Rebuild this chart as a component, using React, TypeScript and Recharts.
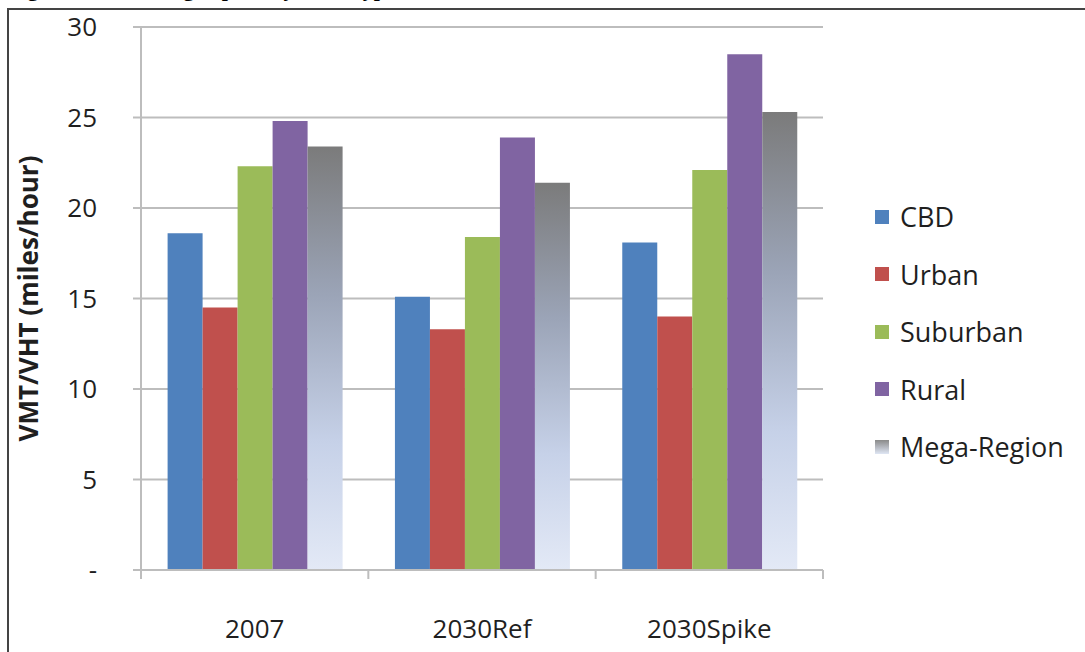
import React from 'react';
import { BarChart, Bar, XAxis, YAxis, CartesianGrid } from 'recharts';

const categories = ['2007', '2030Ref', '2030Spike'];
const cbd = [18.6, 15.1, 18.1];
const urban = [14.5, 13.3, 14.0];
const suburban = [22.3, 18.4, 22.1];
const rural = [24.8, 23.9, 28.5];
const megaRegion = [23.4, 21.4, 25.3];
const yTicks = [0, 5, 10, 15, 20, 25, 30];

const seriesNames = ['CBD', 'Urban', 'Suburban', 'Rural', 'Mega-Region'];
const seriesKeys = ['cbd', 'urban', 'suburban', 'rural', 'mega'];
const seriesColors = ['#4f81bd', '#c0504d', '#9bbb59', '#8064a2', 'url(#megaGrad)'];

const data = categories.map((c, i) => ({
  name: c,
  cbd: cbd[i],
  urban: urban[i],
  suburban: suburban[i],
  rural: rural[i],
  mega: megaRegion[i],
}));

const FONT = '"Open Sans", sans-serif';
const TEXT = '#1f1f1f';
const GRID = '#bdbdbd';

const XTick = (props: any) => {
  const { x, y, payload, index, width } = props;
  const half = payload && payload.offset ? payload.offset : (width || 682) / categories.length / 2;
  const last = index === categories.length - 1;
  return (
    <g>
      <line x1={x - half} x2={x - half} y1={y - 8} y2={y + 1} stroke={GRID} strokeWidth={2} />
      {last && <line x1={x + half} x2={x + half} y1={y - 8} y2={y + 1} stroke={GRID} strokeWidth={2} />}
      <text x={x} y={y + 60} textAnchor="middle" fontFamily={FONT} fontSize={26} fill={TEXT}>
        {payload.value}
      </text>
    </g>
  );
};

const LegendBox = () => (
  <div
    style={{
      position: 'absolute',
      left: 875,
      top: 188,
      width: 210,
      fontFamily: FONT,
      fontSize: 27,
      color: TEXT,
    }}
  >
    {seriesNames.map((n, i) => (
      <div key={n} style={{ display: 'flex', alignItems: 'center', height: 57.5 }}>
        <div
          style={{
            width: 14,
            height: 14,
            marginRight: 11,
            background: i === 4 ? 'linear-gradient(#8a8a8a, #dfe6f4)' : seriesColors[i],
          }}
        />
        <span>{n}</span>
      </div>
    ))}
  </div>
);

export default function App() {
  return (
    <div>
      <div
        style={{
          position: 'absolute',
          left: 8,
          top: -22,
          fontFamily: '"Liberation Serif", serif',
          fontWeight: 'bold',
          fontSize: 22,
          lineHeight: '22px',
          whiteSpace: 'nowrap',
          color: '#000',
        }}
      >
        Figure 4-12: Average Speed by Area Type
      </div>
      <div
        style={{
          position: 'absolute',
          left: 7,
          top: 8,
          width: 1100,
          height: 700,
          borderLeft: '2px solid #444',
          borderTop: '2px solid #444',
          boxSizing: 'border-box',
        }}
      />
      <div style={{ position: 'absolute', left: 0, top: 0 }}>
        <BarChart
          width={1085}
          height={652}
          data={data}
          margin={{ top: 27, right: 262, left: 0, bottom: 0 }}
          barCategoryGap="11.7%"
          barGap={0}
        >
          <defs>
            <linearGradient id="megaGrad" x1="0" y1="0" x2="0" y2="1">
              <stop offset="0%" stopColor="#7b7b7b" />
              <stop offset="35%" stopColor="#9ba4b7" />
              <stop offset="70%" stopColor="#c6d1e8" />
              <stop offset="100%" stopColor="#e3e9f6" />
            </linearGradient>
          </defs>
          <CartesianGrid vertical={false} stroke={GRID} strokeWidth={2} />
          <XAxis
            dataKey="name"
            height={82}
            axisLine={{ stroke: GRID, strokeWidth: 2 }}
            tickLine={false}
            tick={<XTick />}
            interval={0}
          />
          <YAxis
            width={141}
            domain={[0, 30]}
            ticks={yTicks}
            interval={0}
            tickSize={8}
            tickMargin={36}
            axisLine={{ stroke: GRID, strokeWidth: 2 }}
            tickLine={{ stroke: GRID, strokeWidth: 2 }}
            tick={{ fontFamily: FONT, fontSize: 26, fill: TEXT }}
            tickFormatter={(v: number) => (v === 0 ? '-' : String(v))}
            label={(p: any) => {
              const vb = p.viewBox || { y: 27, height: 543 };
              const cy = vb.y + vb.height / 2;
              return (
                <text
                  x={28}
                  y={cy}
                  transform={`rotate(-90, 28, ${cy})`}
                  textAnchor="middle"
                  dominantBaseline="central"
                  fontFamily={FONT}
                  fontWeight="bold"
                  fontSize={26}
                  fill={TEXT}
                >
                  VMT/VHT (miles/hour)
                </text>
              );
            }}
          />
          {seriesKeys.map((k, i) => (
            <Bar key={k} dataKey={k} name={seriesNames[i]} fill={seriesColors[i]} isAnimationActive={false} />
          ))}
        </BarChart>
      </div>
      <LegendBox />
    </div>
  );
}
